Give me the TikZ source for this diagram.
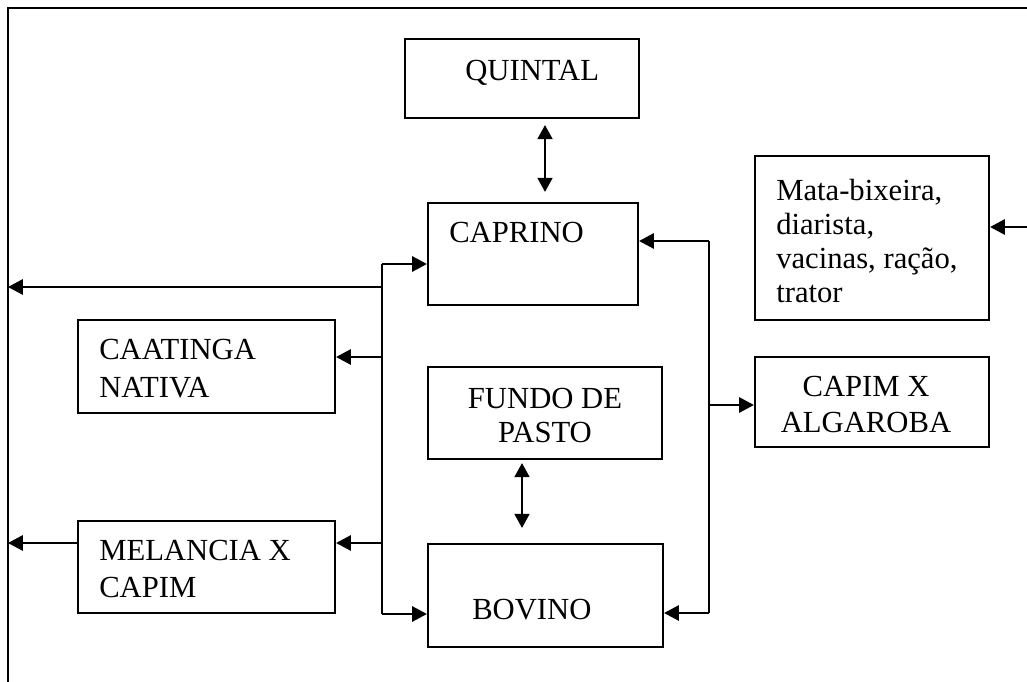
\documentclass[tikz,border=0pt]{standalone}
\usepackage{fontspec}
\setmainfont{Liberation Serif}
\usetikzlibrary{arrows.meta}
\newcommand{\pu}{0.025cm}

\begin{document}
\begin{tikzpicture}[x=\pu,y=-\pu,
  box/.style={draw,line width=1.5pt,inner sep=0pt},
  txt/.style={inner sep=0pt,anchor=base west,align=left,font=\fontsize{21.8pt}{27pt}\selectfont},
  arr/.style={line width=1.5pt,-{Triangle[length=0.37cm,width=0.38cm]}},
  dbl/.style={line width=1.5pt,{Triangle[length=0.35cm,width=0.37cm]}-{Triangle[length=0.35cm,width=0.37cm]}}]
\clip (0,0) rectangle (1027,682);
\coordinate (frame) at (8,8);
\draw [line width=1.5pt](1040,8)--(frame)--(8,700);
% boxes
\node [box,minimum width=234*\pu,minimum height=79*\pu] (quintal) at (522,78.5) {};
\node [box,minimum width=210*\pu,minimum height=102*\pu] (caprino) at (533,254) {};
\node [box,minimum width=234*\pu,minimum height=164*\pu] (mata) at (872,238) {};
\node [box,minimum width=257*\pu,minimum height=93*\pu] (caatinga) at (206.5,366.5) {};
\node [box,minimum width=234*\pu,minimum height=92*\pu] (fundo) at (545,413) {};
\node [box,minimum width=234*\pu,minimum height=90*\pu] (capim) at (872,402) {};
\node [box,minimum width=257*\pu,minimum height=92*\pu] (melancia) at (206.5,567) {};
\node [box,minimum width=235*\pu,minimum height=103*\pu] (bovino) at (545.5,595.5) {};
% texts (multi-line: placed by last baseline)
\node [txt] (quintaltxt) at (465,81) {QUINTAL};
\node [txt] (caprinotxt) at (449,243) {CAPRINO};
\node [txt,font=\fontsize{21.8pt}{24.3pt}\selectfont] (matatxt) at (776,303) {Mata-bixeira,\\diarista,\\vacinas, ração,\\trator};
\node [txt] (caatingatxt) at (99,397) {CAATINGA\\NATIVA};
\node [txt,anchor=base,align=center,font=\fontsize{21.8pt}{24.1pt}\selectfont] (fundotxt) at (545,442) {FUNDO DE\\PASTO};
\node [txt,anchor=base,align=center,font=\fontsize{21.8pt}{25.5pt}\selectfont] (capimtxt) at (866,432) {CAPIM X\\ALGAROBA};
\node [txt,font=\fontsize{21.8pt}{26.2pt}\selectfont] (melanciatxt) at (99,597) {MELANCIA X\\CAPIM};
\node [txt] (bovinotxt) at (472,619) {BOVINO};
% left branch
\coordinate (ltop) at (382,264);
\coordinate (lbot) at (382,614);
\coordinate (lout) at (382,287);
\coordinate (lcaat) at (382,357);
\coordinate (lmel) at (382,543);
\draw [line width=1.5pt](ltop)--(lbot);
\draw [arr](ltop)--(ltop -| caprino.west);
\draw [arr](lbot)--(lbot -| bovino.west);
\draw [arr](lout)--(lout -| frame);
\draw [arr](lcaat)--(lcaat -| caatinga.east);
\draw [arr](lmel)--(lmel -| melancia.east);
\draw [arr](lmel -| melancia.west)--(lmel -| frame);
% right branch
\coordinate (rtop) at (709,241);
\coordinate (rbot) at (709,613);
\coordinate (rmid) at (709,405);
\draw [line width=1.5pt](rtop)--(rbot);
\draw [arr](rtop)--(rtop -| caprino.east);
\draw [arr](rbot)--(rbot -| bovino.east);
\draw [arr](rmid)--(rmid -| capim.west);
\coordinate (matain) at (1030,227);
\draw [arr](matain)--(matain -| mata.east);
% double arrows
\draw [dbl]([xshift=23*\pu,yshift=-6*\pu]quintal.south)--([xshift=12*\pu,yshift=10*\pu]caprino.north);
\draw [dbl]([xshift=-23*\pu,yshift=-3*\pu]fundo.south)--([xshift=-23.5*\pu,yshift=15*\pu]bovino.north);
\end{tikzpicture}
\end{document}
